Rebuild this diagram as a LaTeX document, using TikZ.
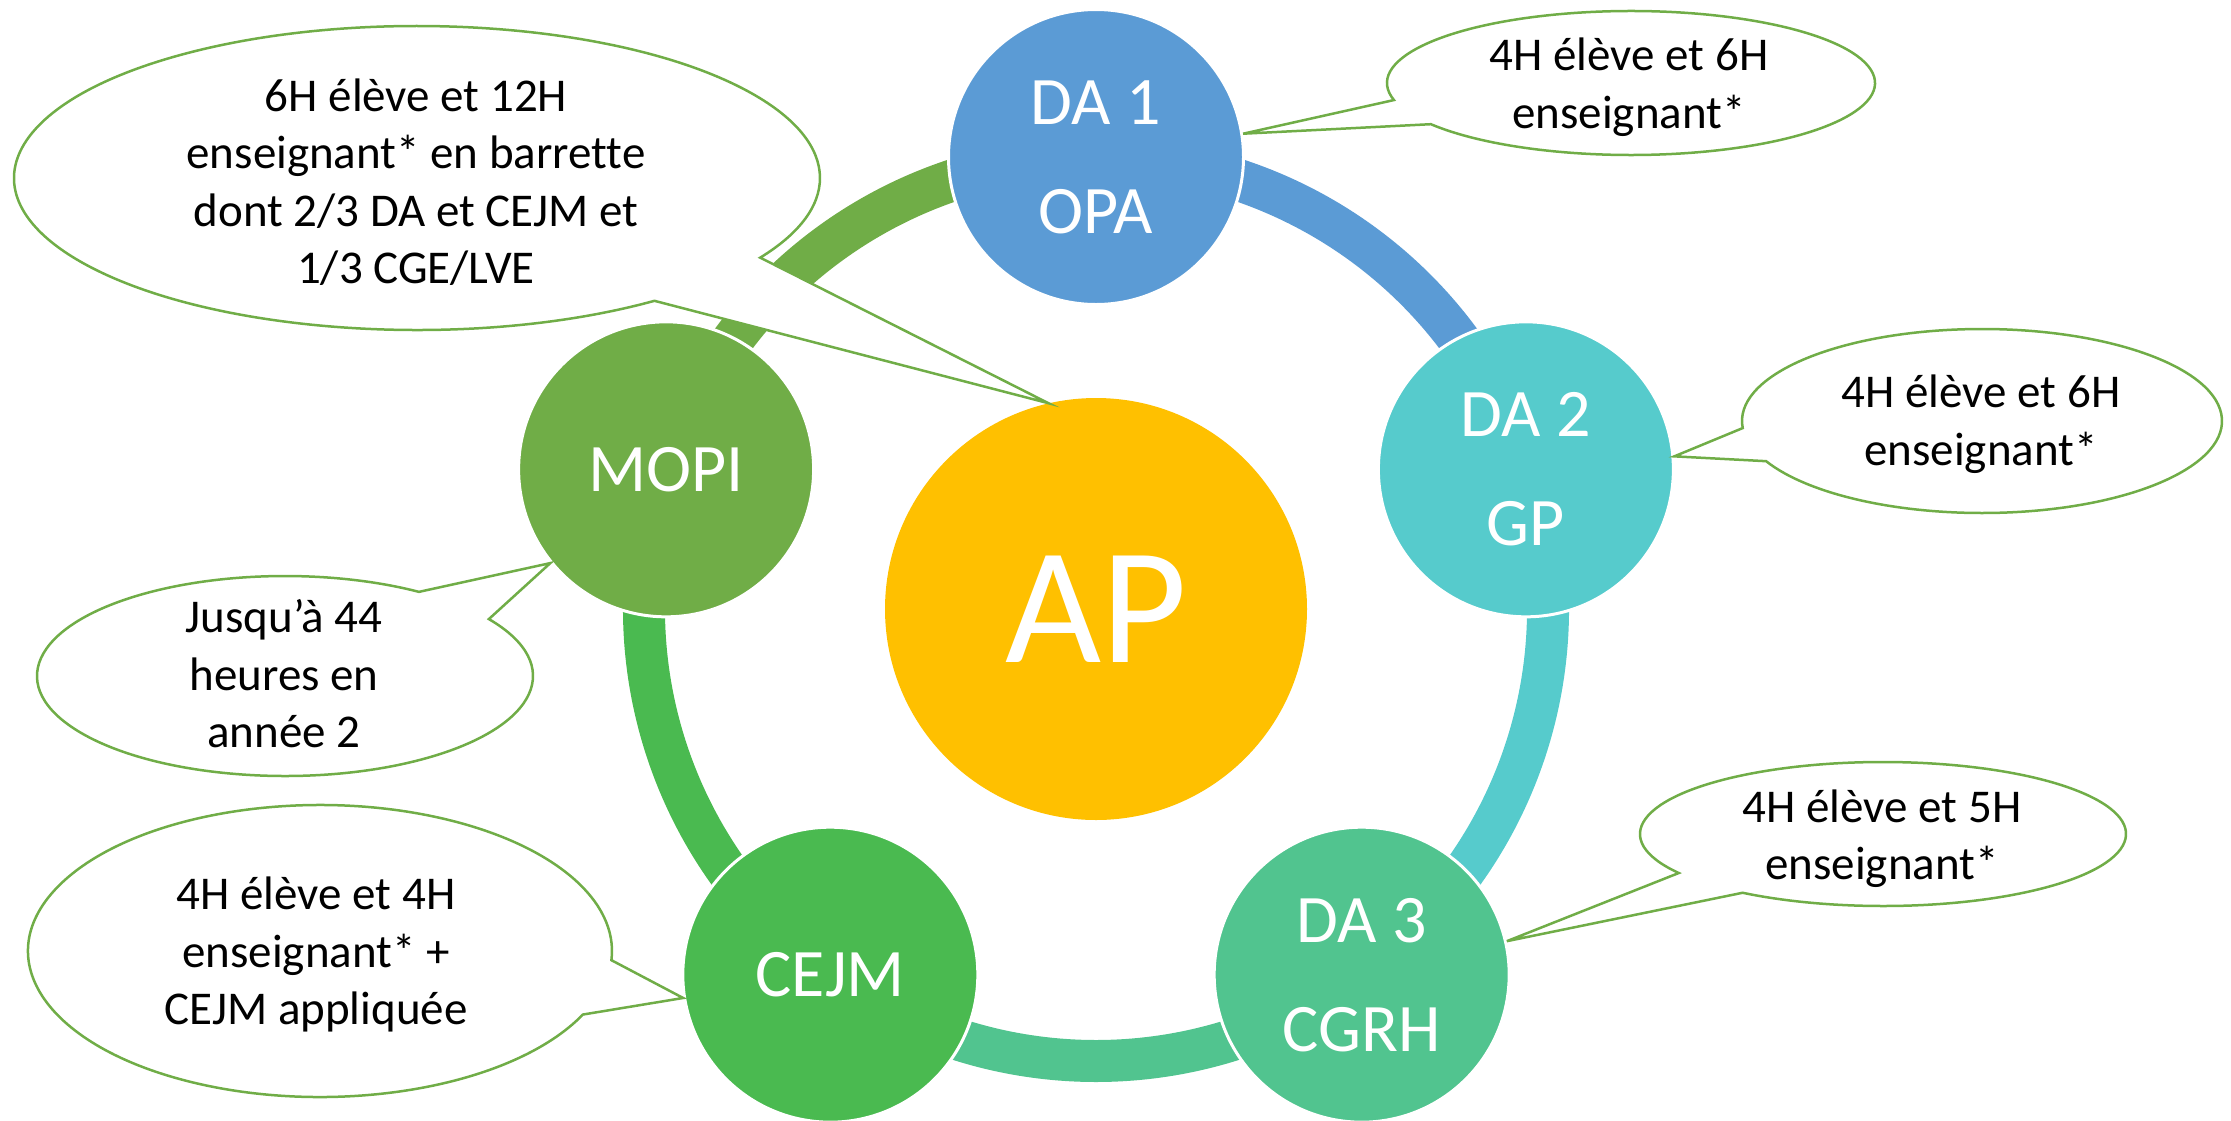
\documentclass[tikz,border=0pt]{standalone}
\usepackage{fontspec}
\setmainfont{Carlito}[Ligatures=NoCommon]
\usetikzlibrary{calc}
\definecolor{cda1}{HTML}{5B9BD5}
\definecolor{cda2}{HTML}{56CBCC}
\definecolor{cda3}{HTML}{51C48F}
\definecolor{ccejm}{HTML}{4ABA50}
\definecolor{cmopi}{HTML}{70AD47}
\definecolor{cap}{HTML}{FFC000}
\definecolor{cline}{HTML}{70AD47}
\begin{document}
\begin{tikzpicture}[x=1pt,y=-1pt,
  bubble/.style={circle, minimum size=295pt, inner sep=0pt, draw=white, line width=3pt,
    text=white, align=center, font=\fontsize{68}{109}\selectfont},
  ringarc/.style={line width=42pt},
  callout/.style={draw=cline, line width=2.5pt, fill=white, line join=miter},
  ctext/.style={align=center, inner sep=0pt, text=black, font=\fontsize{47}{57.5}\selectfont}
]
\useasboundingbox (0,0) rectangle (2231,1120);
\coordinate (rc) at (1096,609);
% ring arcs
\draw[ringarc, cmopi] ($(rc)+(198:452)$) arc[start angle=198, end angle=270, radius=452];
\draw[ringarc, cda1]  ($(rc)+(270:452)$) arc[start angle=270, end angle=342, radius=452];
\draw[ringarc, cda2]  ($(rc)+(-18:452)$) arc[start angle=-18, end angle=54, radius=452];
\draw[ringarc, cda3]  ($(rc)+(54:452)$)  arc[start angle=54, end angle=126, radius=452];
\draw[ringarc, ccejm] ($(rc)+(126:452)$) arc[start angle=126, end angle=198, radius=452];
% circles
\node[circle, minimum size=422pt, inner sep=0pt, fill=cap, text=white,
  font=\fontsize{166}{166}\selectfont] (ap) at (rc) {AP};
\node[bubble, fill=cda1]  (da1)  at ($(rc)+(270:452)$) {DA 1\\OPA};
\node[bubble, fill=cda2]  (da2)  at ($(rc)+(-18:452)$) {DA 2\\GP};
\node[bubble, fill=cda3]  (da3)  at ($(rc)+(54:452)$)  {DA 3\\CGRH};
\node[bubble, fill=ccejm] (cejm) at ($(rc)+(126:452)$) {CEJM};
\node[bubble, fill=cmopi] (mopi) at ($(rc)+(198:452)$) {MOPI};
% callout centres
\coordinate (e1) at (417,178);
\coordinate (e2) at (1631,83);
\coordinate (e3) at (1982,421);
\coordinate (e4) at (1883,834);
\coordinate (e5) at (285,676);
\coordinate (e6) at (320,951);
% callout shapes
\draw[callout] ($(e1)+(53.9:403 and 152)$) arc[start angle=53.9, end angle=391.6, x radius=403, y radius=152] -- (ap.103) -- cycle;
\draw[callout] ($(e2)+(166.3:244 and 72)$) arc[start angle=166.3, end angle=505.1, x radius=244, y radius=72] -- (da1.9) -- cycle;
\draw[callout] ($(e3)+(175.6:240 and 92)$) arc[start angle=175.6, end angle=514.1, x radius=240, y radius=92] -- (da2.5) -- cycle;
\draw[callout] ($(e4)+(147.2:243 and 72)$) arc[start angle=147.2, end angle=485.3, x radius=243, y radius=72] -- (da3.13.5) -- cycle;
\draw[callout] ($(e5)+(-34.7:248 and 100)$) arc[start angle=-34.7, end angle=302.7, x radius=248, y radius=100] -- (mopi.219) -- cycle;
\draw[callout] ($(e6)+(25.8:292 and 146)$) arc[start angle=25.8, end angle=363.6, x radius=292, y radius=146] -- (cejm.189) -- cycle;
% callout texts
\node[ctext] (t1) at (416,182) {6H élève et 12H\\enseignant* en barrette\\dont 2/3 DA et CEJM et\\1/3 CGE/LVE};
\node[ctext] (t2) at (1629,87) {4H élève et 6H\\enseignant*};
\node[ctext] (t3) at (1981,424) {4H élève et 6H\\enseignant*};
\node[ctext] (t4) at (1882,838.5) {4H élève et 5H\\enseignant*};
\node[ctext] (t5) at (284,674) {Jusqu’à 44\\heures en\\année 2};
\node[ctext] (t6) at (316,954.5) {4H élève et 4H\\enseignant* +\\CEJM appliquée};
\end{tikzpicture}
\end{document}
